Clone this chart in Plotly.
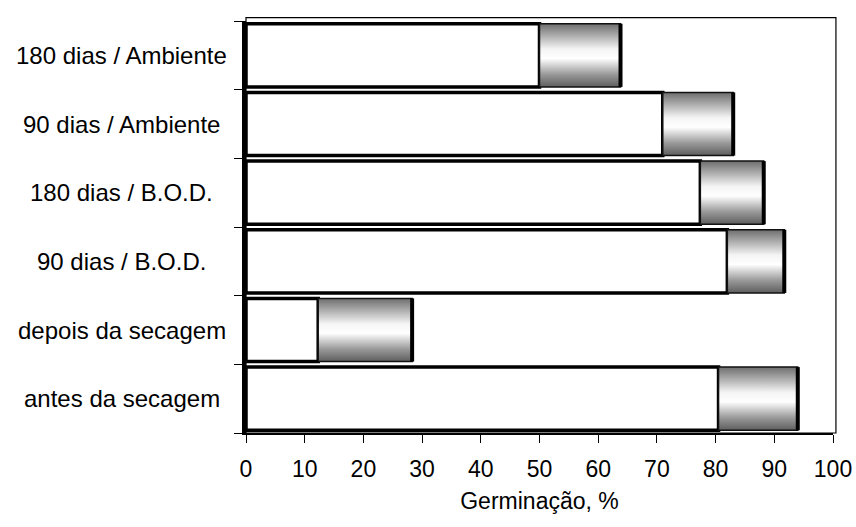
import plotly.graph_objects as go

# Storage conditions, bottom to top
categories = [
    "antes da secagem",
    "depois da secagem",
    "90 dias / B.O.D.",
    "180 dias / B.O.D.",
    "90 dias / Ambiente",
    "180 dias / Ambiente",
]
# Inner (white) segment end and total germination, %
base_values = [80.5, 12.3, 82.0, 77.4, 71.0, 50.0]
total_values = [94.0, 28.3, 91.7, 88.2, 83.0, 63.8]
x_ticks = [0, 10, 20, 30, 40, 50, 60, 70, 80, 90, 100]

BAR_W = 0.92
HALF = BAR_W / 2
positions = list(range(len(categories)))
FONT = "Liberation Sans, Arial, sans-serif"

fig = go.Figure()

# White inner segment
fig.add_trace(go.Bar(
    x=base_values, y=positions, orientation="h", width=BAR_W,
    marker=dict(color="white", line=dict(color="black", width=3.5)),
    hoverinfo="skip", showlegend=False,
))

# Shaded outer segment with a vertical grey-white-grey gradient
for pos, b, t in zip(positions, base_values, total_values):
    fig.add_trace(go.Scatter(
        x=[b, t, t, b, b],
        y=[pos - HALF, pos - HALF, pos + HALF, pos + HALF, pos - HALF],
        mode="lines", fill="toself",
        fillgradient=dict(
            type="vertical",
            colorscale=[[0, "#5e5e5e"], [0.2, "#9a9a9a"], [0.45, "#ffffff"],
                        [0.6, "#f4f4f4"], [0.85, "#a0a0a0"], [1, "#6e6e6e"]],
        ),
        line=dict(color="#111111", width=1.5),
        hoverinfo="skip", showlegend=False,
    ))
    # heavy right edge of the bar
    fig.add_trace(go.Scatter(
        x=[t, t], y=[pos - HALF, pos + HALF], mode="lines",
        line=dict(color="black", width=4),
        hoverinfo="skip", showlegend=False,
    ))

# Category labels, centred in the left margin
for pos, name in zip(positions, categories):
    fig.add_annotation(
        x=-0.212, xref="paper", y=pos, yref="y", text=name,
        showarrow=False, xanchor="center", yanchor="middle",
        font=dict(family=FONT, size=24, color="black"),
    )

# Thin outer frame
fig.add_shape(type="rect", xref="paper", yref="paper", x0=0, y0=0, x1=1.005, y1=1.008,
              line=dict(color="black", width=1.2), fillcolor="rgba(0,0,0,0)")

fig.update_layout(
    width=856, height=527,
    margin=dict(l=246, r=23, t=21, b=94),
    paper_bgcolor="white", plot_bgcolor="white",
    barmode="overlay",
    font=dict(family=FONT, size=23, color="black"),
    xaxis=dict(
        range=[0, 100], tickvals=x_ticks, ticktext=[str(v) for v in x_ticks],
        ticks="outside", ticklen=8, tickcolor="black", tickwidth=1.2,
        ticklabelstandoff=6, automargin=False,
        showline=True, linecolor="black", linewidth=2,
        showgrid=False, zeroline=False,
        tickfont=dict(size=23),
        title=dict(text="Germinação, %", font=dict(size=23), standoff=12),
    ),
    yaxis=dict(
        range=[-0.5, len(categories) - 0.5], automargin=False,
        tickvals=positions, ticktext=[""] * len(categories), ticks="",
        minor=dict(tickvals=[p - 0.5 for p in positions] + [len(categories) - 0.5],
                   ticks="outside", ticklen=8, tickcolor="black", tickwidth=1.2),
        showline=True, linecolor="black", linewidth=4,
        showgrid=False, zeroline=False,
    ),
)

fig.write_html("out.html")
